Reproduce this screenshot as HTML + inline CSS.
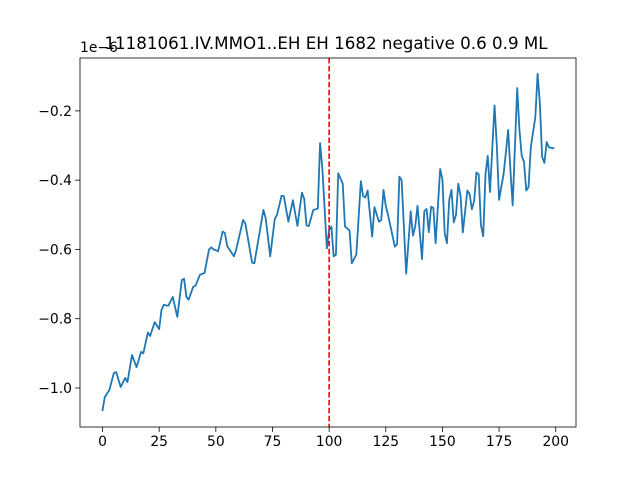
<!DOCTYPE html>
<html><head><meta charset="utf-8"><style>
body{margin:0;background:#fff}
svg text{font-family:"DejaVu Sans","Liberation Sans",sans-serif;fill:#000}
</style></head><body>
<svg id="chart" width="640" height="480" viewBox="0 0 640 480" xmlns="http://www.w3.org/2000/svg">
<rect width="640" height="480" fill="#fff"/>
<text x="326" y="49" font-size="16.7" text-anchor="middle">11181061.IV.MMO1..EH EH 1682 negative 0.6 0.9 ML</text>
<text x="80" y="52" font-size="13.9">1e−6</text>
<g id="plot"></g>
</svg>
<script>
const sampleIdx=[0,1,3,5,6,8,10,11,13,15,17,18,20,21,23,25,26,27,29,31,33,35,36,37,38,40,41,43,45,47,48,49,51,53,54,55,58,59,62,63,65,66,67,71,72,74,76,77,79,80,82,84,86,88,89,90,91,93,95,96,97,99,100,101,102,103,104,106,107,109,110,112,114,115,116,117,119,120,122,123,124,125,126,129,130,131,132,134,136,137,138,139,141,142,143,144,145,146,147,149,150,151,152,153,154,155,156,157,158,159,161,162,163,164,165,166,167,168,169,170,171,173,174,175,177,178,179,180,181,183,184,185,186,187,188,189,191,192,193,194,195,196,197,199];
const seriesVals=[-1.064,-1.026,-1.006,-0.957,-0.954,-0.997,-0.971,-0.983,-0.905,-0.94,-0.896,-0.9,-0.84,-0.85,-0.81,-0.83,-0.775,-0.76,-0.763,-0.737,-0.795,-0.688,-0.685,-0.737,-0.745,-0.708,-0.705,-0.673,-0.668,-0.6,-0.594,-0.6,-0.605,-0.548,-0.553,-0.59,-0.62,-0.6,-0.515,-0.525,-0.6,-0.638,-0.64,-0.486,-0.51,-0.62,-0.512,-0.5,-0.445,-0.446,-0.52,-0.458,-0.532,-0.436,-0.454,-0.53,-0.533,-0.486,-0.482,-0.293,-0.365,-0.597,-0.544,-0.534,-0.62,-0.615,-0.38,-0.41,-0.534,-0.545,-0.64,-0.615,-0.403,-0.446,-0.45,-0.43,-0.563,-0.478,-0.52,-0.515,-0.428,-0.475,-0.5,-0.592,-0.585,-0.39,-0.4,-0.67,-0.49,-0.56,-0.534,-0.474,-0.628,-0.49,-0.483,-0.55,-0.477,-0.48,-0.582,-0.368,-0.398,-0.553,-0.582,-0.457,-0.428,-0.522,-0.5,-0.41,-0.445,-0.551,-0.43,-0.44,-0.484,-0.46,-0.378,-0.383,-0.53,-0.562,-0.383,-0.33,-0.434,-0.184,-0.3,-0.457,-0.382,-0.32,-0.255,-0.37,-0.473,-0.134,-0.255,-0.33,-0.347,-0.43,-0.42,-0.305,-0.218,-0.093,-0.178,-0.333,-0.35,-0.29,-0.305,-0.308];
const xTicks=[0,25,50,75,100,125,150,175,200];
const yTicks=[-1.0,-0.8,-0.6,-0.4,-0.2];
const yTickLabels=["−1.0","−0.8","−0.6","−0.4","−0.2"];
const eventIdx=100;

const L=80,R=576,T=58,B=427;
const xMin=-9.95,xMax=208.95,yMin=-1.1127,yMax=-0.0473;
const sx=v=>L+(v-xMin)/(xMax-xMin)*(R-L);
const sy=v=>B-(v-yMin)/(yMax-yMin)*(B-T);
const NS="http://www.w3.org/2000/svg";
const g=document.getElementById('plot');
function mk(tag,attrs){const e=document.createElementNS(NS,tag);for(const k in attrs)e.setAttribute(k,attrs[k]);g.appendChild(e);return e;}

let d=sampleIdx.map((x,i)=>(i?'L':'M')+sx(x).toFixed(2)+','+sy(seriesVals[i]).toFixed(2)).join(' ');
const line=mk('path',{d:d,fill:'none',stroke:'#1f77b4','stroke-width':1.8,'stroke-linejoin':'round','stroke-linecap':'square'});



const ev=mk('line',{x1:sx(eventIdx),x2:sx(eventIdx),y1:T,y2:B,stroke:'#ff0000','stroke-width':1.6,'stroke-dasharray':'5.55,2.4'});



const frame=mk('rect',{x:L,y:T,width:R-L,height:B-T,fill:'none',stroke:'#000','stroke-width':0.8});



xTicks.forEach(t=>{
  const x=sx(t);
  const tk=mk('line',{x1:x,x2:x,y1:B,y2:B+4.9,stroke:'#000','stroke-width':0.8});
  
  
  const tx=mk('text',{x:x,y:B+19,'font-size':13.9,'text-anchor':'middle'});
  tx.textContent=String(t);
  
  
});
yTicks.forEach((t,i)=>{
  const y=sy(t);
  const tk=mk('line',{x1:L-4.9,x2:L,y1:y,y2:y,stroke:'#000','stroke-width':0.8});
  
  
  const tx=mk('text',{x:L-8,y:y+5,'font-size':13.9,'text-anchor':'end'});
  tx.textContent=yTickLabels[i];
  
  
});
</script>
</body></html>
